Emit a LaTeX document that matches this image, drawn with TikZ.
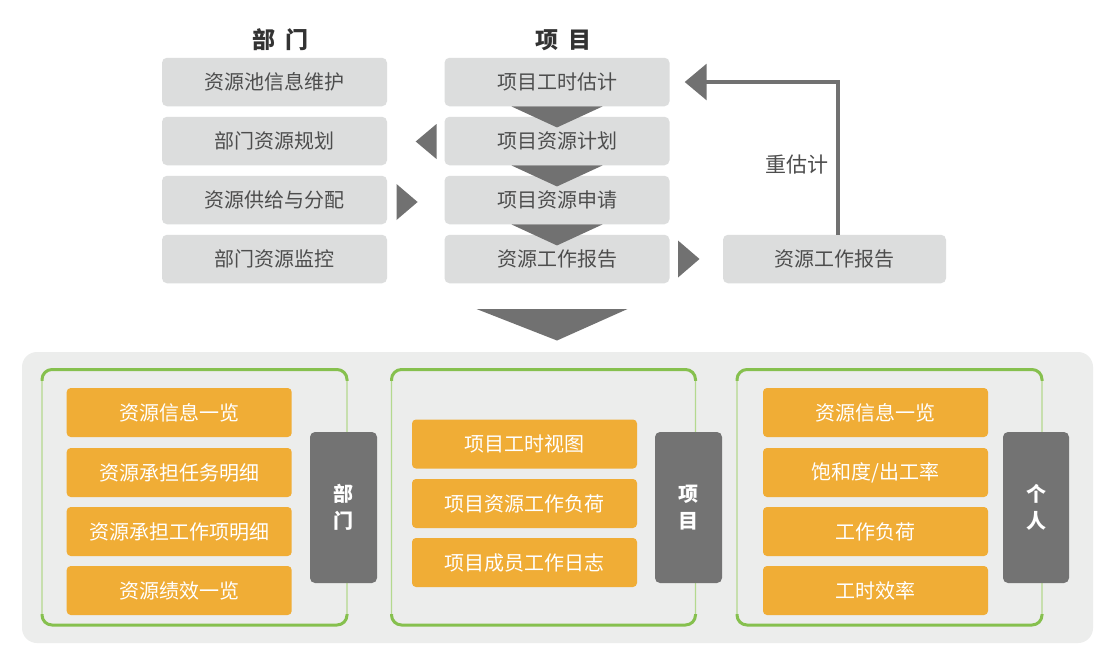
\documentclass[tikz,border=0pt]{standalone}
\usepackage{fontspec}
\newfontfamily\cjk{Noto Sans CJK SC}
\usetikzlibrary{calc,arrows.meta}
\definecolor{boxgray}{HTML}{DCDDDD}
\definecolor{txtgray}{HTML}{4D4D4D}
\definecolor{hdrgray}{HTML}{333333}
\definecolor{arrgray}{HTML}{717171}
\definecolor{tabgray}{HTML}{737373}
\definecolor{orangebox}{HTML}{F0AD36}
\definecolor{bggray}{HTML}{ECEDEC}
\definecolor{greenline}{HTML}{86C04E}
\definecolor{greenlight}{HTML}{B4D98E}
\begin{document}
\begin{tikzpicture}[x=1pt,y=-1pt,
  font=\cjk\fontsize{20}{24}\selectfont,
  graybox/.style={fill=boxgray, rounded corners=5pt, minimum width=225pt, minimum height=48.5pt, text=txtgray, inner sep=0pt},
  orbox/.style={fill=orangebox, rounded corners=4pt, minimum width=225pt, minimum height=49pt, text=white, inner sep=0pt},
  tabbox/.style={fill=tabgray, rounded corners=5pt, minimum width=67pt, minimum height=151pt, text=white, font=\cjk\bfseries\fontsize{20}{27}\selectfont, align=center, inner sep=0pt},
  hdr/.style={text=hdrgray, font=\cjk\bfseries\fontsize{23}{26}\selectfont, inner sep=0pt},
  tri/.style={fill=arrgray, draw=none},
  panelthin/.style={draw=greenlight, line width=1.2pt, rounded corners=10pt},
  panelthick/.style={draw=greenline, line width=3pt, rounded corners=10pt}
]
\useasboundingbox (0,0) rectangle (1118,662);
\fill[white] (0,0) rectangle (1118,662);

% headers
\node[hdr] (h1) at (280.5,40) {部\hspace{0.4em}门};
\node[hdr] (h2) at (563.5,40) {项\hspace{0.4em}目};

% department column
\node[graybox] (d1) at (274.5,82) {资源池信息维护};
\node[graybox] (d2) at (274.5,141) {部门资源规划};
\node[graybox] (d3) at (274.5,200) {资源供给与分配};
\node[graybox] (d4) at (274.5,259) {部门资源监控};

% project column
\node[graybox] (p1) at (557,82) {项目工时估计};
\node[graybox] (p2) at (557,141) {项目资源计划};
\node[graybox] (p3) at (557,200) {项目资源申请};
\node[graybox] (p4) at (557,259) {资源工作报告};

% right box
\node[graybox, minimum width=223pt] (rr) at (834.5,259) {资源工作报告};

% chevrons between project boxes
\fill[tri] (p1.south)+(-45.5,0) -- +(45.5,0) -- +(0,21) -- cycle;
\fill[tri] (p2.south)+(-45.5,0) -- +(45.5,0) -- +(0,21) -- cycle;
\fill[tri] (p3.south)+(-45.5,0) -- +(45.5,0) -- +(0,21) -- cycle;

% side triangles
\fill[tri] (436.5,124) -- (436.5,159) -- (415.7,141.5) -- cycle;
\fill[tri] (396.5,184) -- (396.5,220) -- (417.6,202) -- cycle;
\fill[tri] (678,240.5) -- (678,277.5) -- (699.5,259) -- cycle;

% re-estimate loop
\draw[line width=3.3pt, arrgray, -{Triangle[length=22pt,width=36pt]}]
  ($(rr.north)+(3.5,0)$) |- ($(p1.east)+(15,0)$);
\node[text=txtgray, font=\cjk\fontsize{21}{24}\selectfont, inner sep=0pt] (lbl) at (797,165) {重估计};

% big chevron
\fill[tri] (476.5,309) -- (627.5,309) -- (557,340.5) -- cycle;

% bottom background
\fill[bggray, rounded corners=15pt] (22,352) rectangle (1093,643);

% panels
\foreach \xa/\xb in {42/347, 391.5/695.5, 737/1042}{
  \draw[panelthin] (\xa,369.5) rectangle (\xb,625);
  \begin{scope}
    \clip (\xa-5,360) rectangle (\xb+5,380);
    \draw[panelthick] (\xa,369.5) rectangle (\xb,625);
  \end{scope}
  \begin{scope}
    \clip (\xa-5,614) rectangle (\xb+5,635);
    \draw[panelthick] (\xa,369.5) rectangle (\xb,625);
  \end{scope}
}

% panel 1 : department
\node[orbox] (a1) at (179.2,412.5) {资源信息一览};
\node[orbox] (a2) at (179.2,472.5) {资源承担任务明细};
\node[orbox] (a3) at (179.2,531.5) {资源承担工作项明细};
\node[orbox] (a4) at (179.2,590.5) {资源绩效一览};
\node[tabbox] (t1) at (343.5,507.5) {部\\门};

% panel 2 : project
\node[orbox] (b1) at (524.5,444) {项目工时视图};
\node[orbox] (b2) at (524.5,503.5) {项目资源工作负荷};
\node[orbox] (b3) at (524.5,562.5) {项目成员工作日志};
\node[tabbox] (t2) at (688.5,507.5) {项\\目};

% panel 3 : personal
\node[orbox] (c1) at (875.5,412.5) {资源信息一览};
\node[orbox] (c2) at (875.5,472.5) {饱和度/出工率};
\node[orbox] (c3) at (875.5,531.5) {工作负荷};
\node[orbox] (c4) at (875.5,590.5) {工时效率};
\node[tabbox, minimum width=66pt] (t3) at (1036,507.5) {个\\人};
\end{tikzpicture}
\end{document}
